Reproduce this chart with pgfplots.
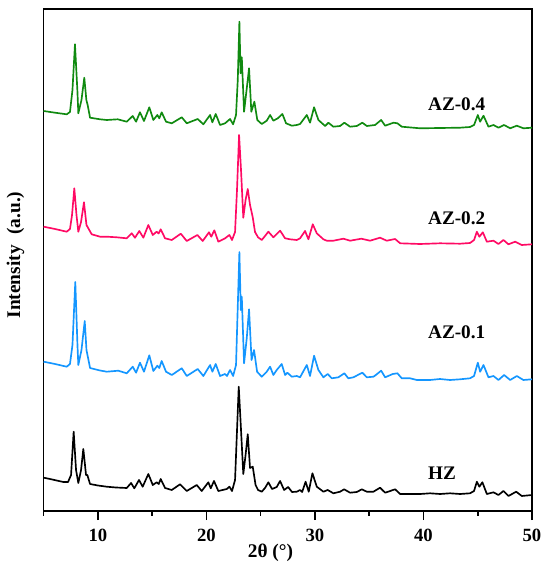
\documentclass[border=0pt]{standalone}
\usepackage{pgfplots}
\pgfplotsset{compat=1.18}
\usepackage{fontspec}
\setmainfont{Liberation Serif}
\definecolor{cgreen}{RGB}{16,138,16}
\definecolor{cpink}{RGB}{255,10,100}
\definecolor{cblue}{RGB}{20,150,255}
\begin{document}
\begin{tikzpicture}
\begin{axis}[
  name=ax,
  scale only axis,
  width=366.3pt, height=376.5pt,
  xmin=5, xmax=50, ymin=0, ymax=502,
  axis line style={line width=1.2pt},
  xtick={10,20,30,40,50},
  minor xtick={5,15,25,35,45},
  ytick=\empty,
  xtick pos=bottom,
  tick align=outside,
  major tick length=6.75pt,
  minor tick length=3.4pt,
  every tick/.style={black, line width=1.2pt},
  /pgf/number format/assume math mode=true,
  xticklabel style={font=\bfseries\fontsize{14}{16}\selectfont, yshift=-3.5pt},
  clip=false,
  every axis plot/.append style={line width=1.25pt, line join=round},
]
% HZ
\addplot[black] coordinates {
(5.00,33.3)(5.59,32)(6.82,29)(7.25,29)(7.53,36)(7.77,79.3)(7.99,41)(8.20,28)(8.45,41)(8.66,62)(8.91,36)(9.03,36)(9.28,27)
(10.01,25.5)(10.82,24.3)(11.67,23.5)(12.66,23)(13.06,28)(13.36,22.7)(13.79,31)(14.13,24.3)(14.65,37)(15.06,26)(15.42,28.7)(15.61,27)(15.79,32)
(16.19,23)(16.81,21)(17.57,26.7)(18.19,20)(19.11,26)(19.57,20)(20.18,28.7)(20.40,22.7)(20.70,30)(21.10,20)(21.88,22)(22.12,24.3)(22.36,20)(22.64,31)
(22.98,124.3)(23.19,81)(23.40,37)(23.61,56)(23.81,76.7)(24.02,43)(24.27,44.3)(24.53,26)(24.76,21)(25.10,19.3)(25.40,23)(25.71,28.7)(26.05,22)(26.48,24)
(26.79,30)(27.16,21)(27.53,24)(27.89,19)(28.33,19.3)(28.63,21)(28.82,19)(29.14,29.3)(29.43,19.3)(29.77,37.7)(30.17,24.3)(30.78,19.3)(31.18,21)(31.70,17.7)
(32.32,19.3)(32.69,21.7)(33.24,18.3)(33.86,19)(34.32,21.7)(34.78,19.3)(35.39,19.3)(36.00,23.3)(36.47,18.3)(36.93,20)(37.39,21.7)(37.85,17)(38.77,17)
(39.69,17)(40.61,17.7)(41.53,17)(42.45,17.7)(43.37,17)(44.29,17.7)(44.66,20)(44.92,29.3)(45.15,24.3)(45.43,28.7)(45.84,17)(46.45,18.7)(46.91,16)
(47.37,20)(47.83,15)(48.54,19.3)(49.06,15)(50.00,16)
};
% AZ-0.1
\addplot[cblue] coordinates {
(5.00,149.3)(6.05,147)(7.13,144.3)(7.43,147)(7.66,166)(7.92,229)(8.12,166)(8.20,146)(8.49,161)(8.79,190)(8.95,161)(9.06,155)(9.28,143)
(10.20,140.5)(10.82,139.3)(11.88,140.3)(12.66,137.7)(13.21,144.3)(13.52,138.3)(13.88,148.3)(14.25,139.3)(14.74,155.7)(15.11,140)(15.48,145.3)(15.66,143)(15.88,150)
(16.28,139.3)(16.81,136)(17.73,142.7)(18.19,135)(19.20,142)(19.72,135)(20.34,146)(20.55,139.3)(20.86,147)(21.26,135)(21.72,137)(21.90,135)(22.18,141)(22.46,135)(22.73,146)
(23.04,259)(23.17,201)(23.26,214.3)(23.47,147.7)(23.72,173)(23.93,201.7)(24.16,151)(24.39,161)(24.67,139.3)(25.10,134.3)(25.56,139.3)(25.87,144.3)(26.17,136)(26.48,141)
(26.94,147)(27.25,136)(27.46,138.3)(27.87,134.3)(28.33,135)(28.63,133.7)(29.25,146)(29.55,135)(29.92,155.3)(30.32,141)(30.78,133.7)(31.18,137)(31.55,132.7)
(32.16,133.7)(32.71,137.7)(33.08,132.7)(33.54,133.7)(34.37,138.3)(34.78,133.7)(35.39,134.3)(35.61,136)(36.10,140.3)(36.47,133.7)(37.17,137)(37.60,137.7)(38.00,132.7)
(38.77,132.7)(39.39,131)(40.61,131)(41.53,132)(42.45,131)(43.37,131.7)(44.29,132.7)(44.66,135)(45.01,148.3)(45.22,139.3)(45.53,146)(45.99,133.7)(46.45,135)(46.91,131)
(47.43,136)(47.99,131)(48.60,135)(49.21,131)(50.00,131.7)
};
% AZ-0.2
\addplot[cpink] coordinates {
(5.00,284.3)(6.05,282)(7.13,279.3)(7.43,282)(7.62,296)(7.83,322.7)(8.03,296)(8.20,279.3)(8.45,289)(8.72,308.7)(8.95,286)(9.43,276.7)
(10.20,274.3)(10.82,274.3)(11.74,273.7)(12.66,272.7)(13.12,277.7)(13.42,273.3)(13.82,280)(14.19,273.3)(14.65,286)(15.06,276)(15.42,279.3)(15.60,277.5)(15.79,281.7)
(16.19,272.7)(16.81,271)(17.64,277.3)(18.19,270)(19.17,276)(19.66,270)(20.24,278.7)(20.45,274.3)(20.73,280.7)(21.10,269.3)(21.72,272.7)(22.12,276)(22.36,271)(22.64,279)
(22.82,321)(23.01,376)(23.19,341)(23.40,293.3)(23.61,311)(23.81,322)(24.02,306)(24.27,293.7)(24.48,279)(24.76,273.7)(25.10,271)(25.40,275)(25.71,279.3)(26.17,273.7)
(26.79,280.3)(27.25,272.7)(27.71,271.7)(28.33,271)(28.63,272.7)(29.09,280)(29.40,271.7)(29.80,286.7)(30.17,277.7)(30.78,271.7)(31.09,270.3)(31.70,270.3)
(32.62,272.3)(33.24,270.3)(34.28,272.3)(35.08,270.3)(36.00,273.3)(36.62,270.3)(37.39,272)(37.85,267.7)(39.69,267)(41.53,267.7)(43.37,267.3)(44.29,268)
(44.66,271)(44.92,279.3)(45.15,274.3)(45.47,278.7)(45.84,269.3)(46.45,270.3)(46.91,267)(47.37,271)(47.83,266.7)(48.45,269.3)(49.06,266)(50.00,266.7)
};
% AZ-0.4
\addplot[cgreen] coordinates {
(5.00,400)(6.05,398.3)(7.13,396.7)(7.43,399)(7.66,421)(7.89,466.7)(8.11,421)(8.20,397.7)(8.49,411)(8.75,433.3)(8.94,411)(9.06,406)(9.28,393.3)
(10.20,391.7)(10.82,391)(11.83,391.7)(12.66,389.3)(13.21,395)(13.52,389.3)(13.88,398.7)(14.25,390)(14.74,403.7)(15.11,391)(15.48,396)(15.66,392.7)(15.88,398.7)
(16.28,389.3)(16.81,387.7)(17.73,393.7)(18.19,387.7)(19.20,392)(19.72,386.7)(20.34,396)(20.55,388.7)(20.86,397)(21.26,386)(21.72,387.7)(22.18,392)(22.46,386.7)(22.73,396)
(22.89,431)(23.04,489.3)(23.15,437.7)(23.26,453.7)(23.47,399.3)(23.72,422.7)(23.93,442.7)(24.14,399.3)(24.42,409.3)(24.69,391)(25.10,387)(25.56,390.3)(25.87,396)
(26.17,390.3)(26.58,392.7)(27.00,397)(27.34,387.7)(27.87,385.3)(28.33,386)(28.63,387)(29.25,396)(29.55,388.3)(29.92,403.7)(30.32,391)(30.94,385)(31.24,388.3)
(31.70,384.3)(32.32,385)(32.71,388.3)(33.24,384.3)(33.86,385)(34.37,388.3)(34.78,385)(35.54,386)(36.10,391)(36.47,385.3)(37.24,388.3)(37.60,387.7)(38.00,384.3)
(39.69,382.7)(41.53,383)(43.37,383.3)(44.29,384)(44.66,386)(45.01,396)(45.22,389.3)(45.53,395.3)(45.99,384.3)(46.45,386)(46.91,383.3)(47.43,386)(47.99,382.7)
(48.60,385.3)(49.21,382.7)(50.00,383.3)
};
\node[anchor=west, font=\bfseries\fontsize{14.4}{16}\selectfont] at (axis cs:40.0,407) {AZ-0.4};
\node[anchor=west, font=\bfseries\fontsize{14.4}{16}\selectfont] at (axis cs:40.0,293) {AZ-0.2};
\node[anchor=west, font=\bfseries\fontsize{14.4}{16}\selectfont] at (axis cs:40.0,179) {AZ-0.1};
\node[anchor=west, font=\bfseries\fontsize{14.4}{16}\selectfont] at (axis cs:40.0,38) {HZ};
\node[font=\bfseries\fontsize{14.5}{16}\selectfont] at (axis cs:25.9,-42) {2θ (°)};
\node[rotate=90, font=\bfseries\fontsize{14.5}{16}\selectfont] at (axis cs:2.4,256) {Intensity\hspace{0.55em}(a.u.)};
\end{axis}
\pgfresetboundingbox
\path ([xshift=-32.7pt,yshift=-45.75pt]ax.south west) rectangle ([xshift=13.5pt,yshift=6.75pt]ax.north east);
\end{tikzpicture}
\end{document}
